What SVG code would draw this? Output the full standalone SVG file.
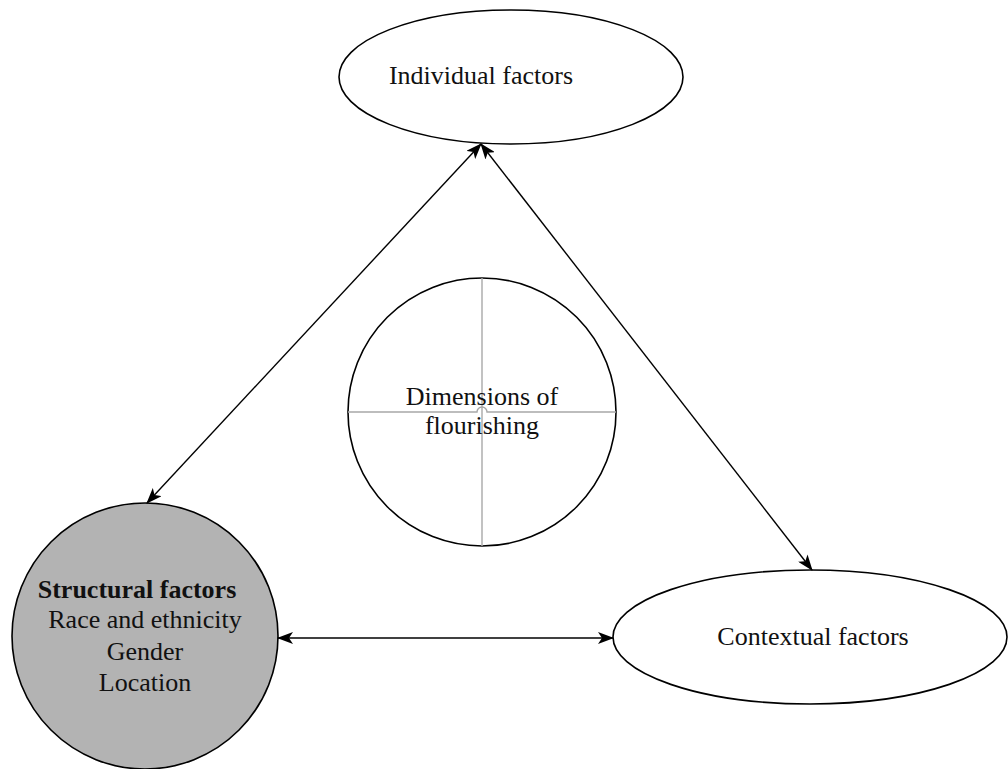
<svg xmlns="http://www.w3.org/2000/svg" width="1008" height="769" viewBox="0 0 1008 769">
  <style>
    .node { fill: #ffffff; stroke: #000000; stroke-width: 1.6; }
    .shaded { fill: #b3b3b3; stroke: #000000; stroke-width: 1.6; }
    .label { font-family: "Liberation Serif", "Times New Roman", serif; font-size: 26px; fill: #111111; text-anchor: middle; }
    .bold { font-weight: bold; }
    .cross { stroke: #a8a8a8; stroke-width: 1.4; fill: none; }
    .link { stroke: #000000; stroke-width: 1.4; fill: none; marker-start: url(#head); marker-end: url(#head); }
  </style>
  <defs>
    <marker id="head" viewBox="0 0 16 12" refX="15" refY="6" markerWidth="16" markerHeight="12" markerUnits="userSpaceOnUse" orient="auto-start-reverse">
      <path d="M0,0 L16,6 L0,12 L4,6 Z" fill="#000000"/>
    </marker>
  </defs>
  <rect width="1008" height="769" fill="#ffffff"/>

  <g id="individual-factors">
    <ellipse class="node" cx="511" cy="77" rx="172" ry="67"/>
    <text class="label" x="481" y="84">Individual factors</text>
  </g>

  <g id="dimensions-of-flourishing">
    <circle class="node" cx="482" cy="412" r="134"/>
    <line class="cross" x1="482" y1="278" x2="482" y2="546"/>
    <path class="cross" d="M348,412 H477 A5,5 0 0 1 487,412 H616"/>
    <text class="label" x="482" y="405">Dimensions of</text>
    <text class="label" x="482" y="434">flourishing</text>
  </g>

  <g id="structural-factors">
    <circle class="shaded" cx="145" cy="636" r="133"/>
    <text class="label bold" x="137" y="598">Structural factors</text>
    <text class="label" x="145" y="628">Race and ethnicity</text>
    <text class="label" x="145" y="660">Gender</text>
    <text class="label" x="145" y="691">Location</text>
  </g>

  <g id="contextual-factors">
    <ellipse class="node" cx="810" cy="637" rx="197" ry="67"/>
    <text class="label" x="813" y="645">Contextual factors</text>
  </g>

  <g id="connectors">
    <line class="link" x1="481" y1="144" x2="147" y2="503"/>
    <line class="link" x1="481" y1="144" x2="812" y2="570"/>
    <line class="link" x1="278" y1="638" x2="613" y2="638"/>
  </g>
</svg>
